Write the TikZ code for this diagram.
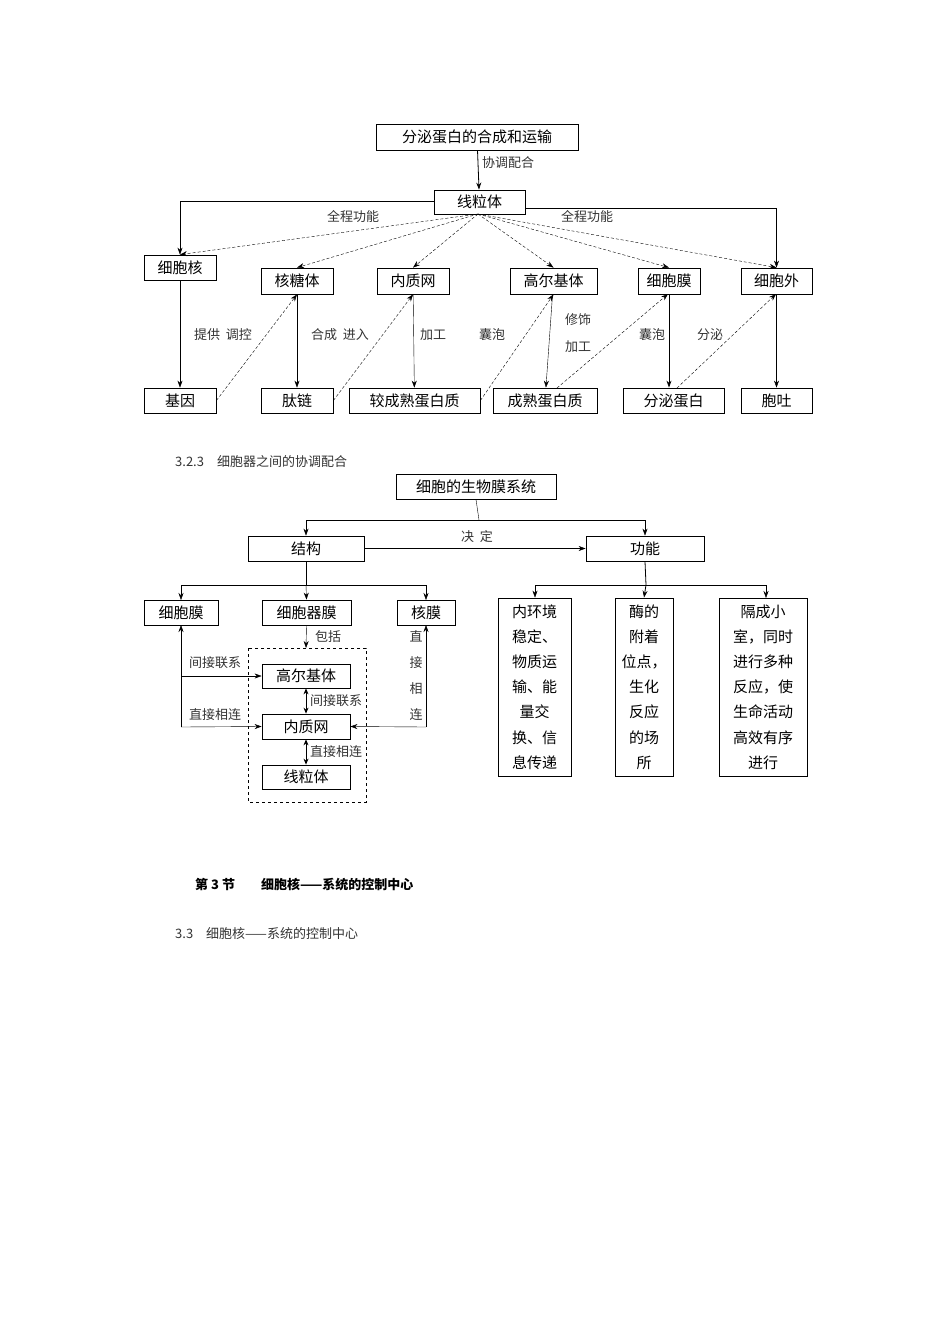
\documentclass[tikz,border=0pt]{standalone}
\usepackage{fontspec}
\setmainfont{Noto Sans CJK SC}
\newfontfamily\lbl{Noto Sans CJK SC}
\usetikzlibrary{arrows.meta}
\begin{document}
\begin{tikzpicture}[x=1pt,y=-1pt,
  bx/.style={draw,thick,inner sep=0pt,font=\fontsize{15}{18}\selectfont},
  lb/.style={font=\lbl\fontsize{13}{15}\selectfont,text=black!80,inner sep=1pt},
  ar/.style={-{Stealth[length=7pt,width=5pt]},thin},
  da/.style={-{Stealth[length=7pt,width=5pt]},thin,densely dashed}]
\useasboundingbox (0,0) rectangle (950,1344);
\newcommand\bxat[6]{\node[bx,minimum width=#4-#2,minimum height=#5-#3] (#1) at ({(#2+#4)/2},{(#3+#5)/2}) {#6};}
% ---- diagram 1
\bxat{t}{376}{124}{578}{150}{分泌蛋白的合成和运输}
\bxat{m}{434}{190}{525}{214}{线粒体}
\bxat{hn}{144}{255}{216}{280}{细胞核}
\bxat{ht}{261}{268}{333}{294}{核糖体}
\bxat{nz}{377}{268}{449}{294}{内质网}
\bxat{ge}{510}{268}{597}{294}{高尔基体}
\bxat{cm}{638}{268}{700}{294}{细胞膜}
\bxat{cw}{741}{268}{812}{294}{细胞外}
\bxat{jy}{144}{388}{216}{413}{基因}
\bxat{tl}{261}{388}{333}{413}{肽链}
\bxat{jc}{349}{388}{480}{413}{较成熟蛋白质}
\bxat{cs}{493}{388}{597}{413}{成熟蛋白质}
\bxat{fm}{623}{388}{724}{413}{分泌蛋白}
\bxat{bt}{741}{388}{812}{413}{胞吐}
\draw[ar,thick] (t) -- (m);
\node[lb,anchor=west] at (481,163) {协调配合};
\draw[ar] (m.west |- 0,201) -| (hn.north);
\draw[ar] (m.east |- 0,208) -| (cw.north);
\node[lb] at (353,216) {全程功能};
\node[lb] at (587,216) {全程功能};
\coordinate (mb) at (478,214);
\foreach \n in {hn,ht,nz,ge,cm,cw} \draw[da] (mb) -- (\n.north);
\foreach \a/\b in {hn/jy,ht/tl,nz/jc,ge/cs,cw/bt} \draw[ar] (\a) -- (\b);
\draw[ar,thick] (cm.south) -- (cm.south |- fm.north);
\draw[da] (jy.east) -- (ht.south);
\draw[da] (tl.east) -- (nz.south);
\draw[da] (jc.east) -- (ge.south);
\draw[da] (557,388) -- (668,294);
\draw[da] (677,388) -- (776,294);
\node[lb] at (223,335) {提供\ \ 调控};
\node[lb] at (340,335) {合成\ \ 进入};
\node[lb] at (433,335) {加工};
\node[lb] at (492,335) {囊泡};
\node[lb] at (578,320) {修饰};
\node[lb] at (578,347) {加工};
\node[lb] at (652,335) {囊泡};
\node[lb] at (710,335) {分泌};
\node[lb,anchor=west] at (174,462) {3.2.3\quad 细胞器之间的协调配合};
% ---- diagram 2
\bxat{s}{396}{474}{556}{499}{细胞的生物膜系统}
\bxat{jg}{248}{536}{364}{561}{结构}
\bxat{gn}{586}{536}{704}{561}{功能}
\draw (s.south) -- (479,520);
\draw[ar] (479,520) -| (jg.north);
\draw[ar] (479,520) -| (gn.north);
\draw[ar] (jg) -- (gn);
\node[lb] at (477,537) {决\ \ 定};
\bxat{xm}{144}{600}{218}{625}{细胞膜}
\bxat{qm}{262}{600}{351}{625}{细胞器膜}
\bxat{hm}{397}{600}{455}{625}{核膜}
\draw[thick] (jg.south) -- (306,585);
\draw[ar] (306,585) -| (181,600);
\draw[ar] (306,585) -- (qm.north);
\draw[ar] (306,585) -| (426,600);
\node[bx,minimum width=73pt,minimum height=178pt,align=center,font=\fontsize{15}{25.2}\selectfont] (r1) at (534.5,687) {内环境\\稳定、\\物质运\\输、能\\量交\\换、信\\息传递};
\node[bx,minimum width=58pt,minimum height=178pt,align=center,font=\fontsize{15}{25.2}\selectfont] (r2) at (644,687) {酶的\\附着\\位点，\\生化\\反应\\的场\\所};
\node[bx,minimum width=88pt,minimum height=178pt,align=center,font=\fontsize{15}{25.2}\selectfont] (r3) at (763,687) {隔成小\\室，同时\\进行多种\\反应，使\\生命活动\\高效有序\\进行};
\draw[thick] (gn.south) -- (646,585);
\draw[ar] (646,585) -| (r1.north -| 535,0);
\draw[ar,thick] (646,585) -- (r2.north);
\draw[ar] (646,585) -| (766,598);
\draw[dashed] (248,648) rectangle (366,802);
\coordinate (dt) at (306,648);
\draw[ar] (qm.south) -- (dt);
\node[lb] at (328,637) {包括};
\bxat{g2}{262}{664}{350}{688}{高尔基体}
\bxat{n2}{262}{714}{350}{739}{内质网}
\bxat{x2}{262}{765}{350}{789}{线粒体}
\draw[{Stealth[length=6pt,width=5pt]}-{Stealth[length=6pt,width=5pt]},thick] (g2) -- (n2);
\draw[{Stealth[length=6pt,width=5pt]}-{Stealth[length=6pt,width=5pt]},thick] (n2) -- (x2);
\node[lb,anchor=west] at (309,701) {间接联系};
\node[lb,anchor=west] at (309,752) {直接相连};
\draw[ar] (181,727) -- (181,625);
\draw[ar] (181,676) -- (g2.west);
\draw[ar] (181,727) -- (n2.west);
\node[lb] at (215,663) {间接联系};
\node[lb] at (215,715) {直接相连};
\draw[ar] (426,727) -- (426,625);
\draw[ar] (426,727) -- (n2.east);
\node[lb,align=center,font=\lbl\fontsize{13}{26}\selectfont] at (416,676) {直\\接\\相\\连};
% ---- text
\node[anchor=west,font=\bfseries\fontsize{13}{15}\selectfont,inner sep=0pt] at (195,885) {第 3 节\qquad 细胞核——系统的控制中心};
\node[lb,anchor=west] at (174,934) {3.3\quad 细胞核——系统的控制中心};
\end{tikzpicture}
\end{document}
